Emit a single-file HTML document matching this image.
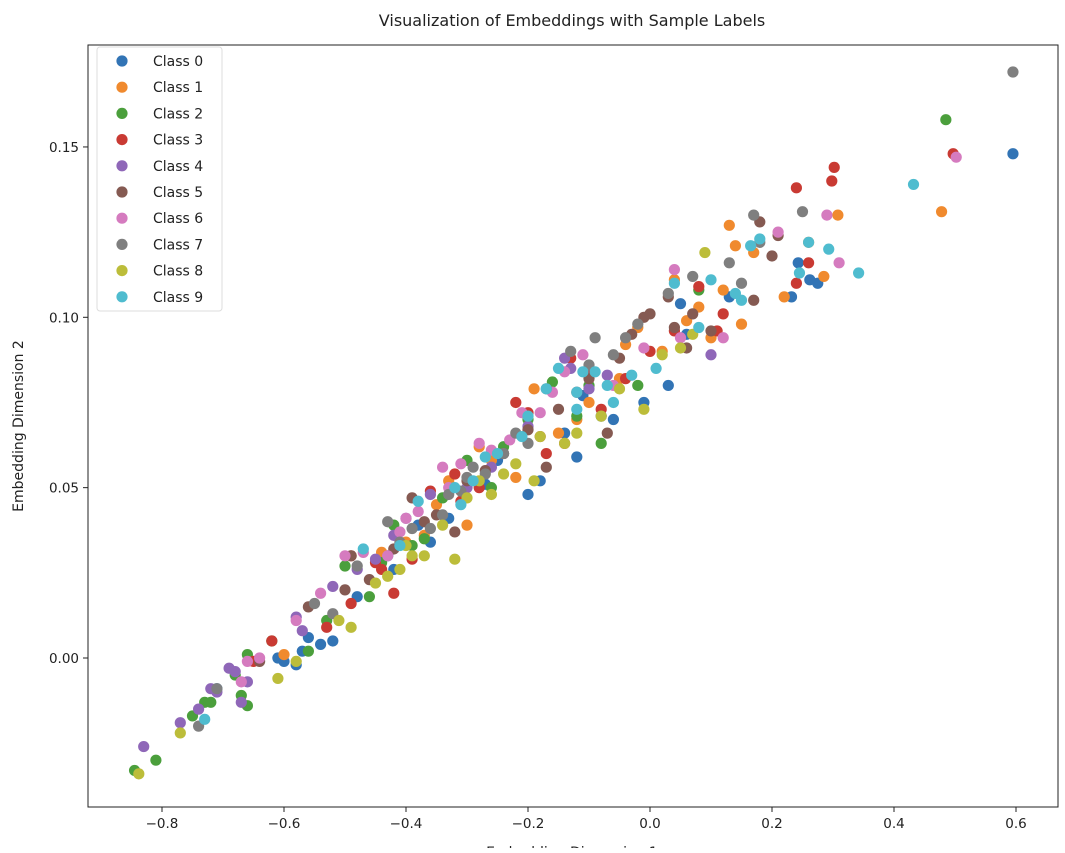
<!DOCTYPE html>
<html><head><meta charset="utf-8"><style>
body{margin:0;background:#fff;}
svg text{font-family:"DejaVu Sans","Liberation Sans",sans-serif;fill:#222;}
</style></head><body>
<svg id="chart" width="1065" height="848" viewBox="0 0 1065 848" xmlns="http://www.w3.org/2000/svg">
<text x="572" y="26" font-size="16" text-anchor="middle">Visualization of Embeddings with Sample Labels</text>
<text transform="translate(23,426) rotate(-90)" font-size="14" text-anchor="middle">Embedding Dimension 2</text>
<text x="572" y="857" font-size="14" text-anchor="middle">Embedding Dimension 1</text>
<g id="points"></g>
<g id="axes"></g>
<g id="legend"></g>
</svg>
<script>
const classNames=["Class 0","Class 1","Class 2","Class 3","Class 4","Class 5","Class 6","Class 7","Class 8","Class 9"];
const colors=["#3274b5","#f08a2e","#4b9f3c","#c93a33","#8f67b8","#855a52","#d57bbf","#7f7f7f","#bcbd3a","#4fbccf"];
const xTicks=[-0.8,-0.6,-0.4,-0.2,0.0,0.2,0.4,0.6];
const xTickLabels=["\u22120.8","\u22120.6","\u22120.4","\u22120.2","0.0","0.2","0.4","0.6"];
const yTicks=[0.00,0.05,0.10,0.15];
const yTickLabels=["0.00","0.05","0.10","0.15"];
const class0=[[0.595,0.148],[0.232,0.106],[0.262,0.111],[0.275,0.110],[0.243,0.116],[0.13,0.106],[0.05,0.104],[0.03,0.080],[-0.01,0.075],[-0.06,0.070],[-0.12,0.059],[-0.20,0.048],[-0.18,0.052],[-0.33,0.041],[-0.36,0.034],[-0.42,0.026],[-0.48,0.018],[-0.52,0.005],[-0.54,0.004],[-0.57,0.002],[-0.58,-0.002],[-0.60,-0.001],[-0.56,0.006],[-0.61,0.000],[-0.71,-0.009],[-0.08,0.071],[0.06,0.095],[-0.14,0.066],[-0.25,0.058],[-0.43,0.030],[-0.27,0.051],[-0.11,0.077],[-0.38,0.039]];
const class1=[[0.478,0.131],[0.308,0.130],[0.285,0.112],[0.26,0.122],[0.14,0.121],[0.13,0.127],[0.15,0.098],[0.22,0.106],[0.10,0.094],[0.12,0.108],[0.04,0.111],[0.06,0.099],[0.08,0.103],[-0.02,0.097],[-0.04,0.092],[-0.10,0.075],[-0.15,0.066],[-0.22,0.053],[-0.28,0.062],[-0.30,0.039],[-0.37,0.036],[-0.44,0.031],[-0.33,0.052],[-0.60,0.001],[0.17,0.119],[-0.05,0.082],[0.02,0.090],[-0.19,0.079],[-0.40,0.034],[-0.26,0.058],[-0.12,0.070],[-0.35,0.045]];
const class2=[[0.485,0.158],[-0.845,-0.033],[-0.81,-0.030],[-0.75,-0.017],[-0.73,-0.013],[-0.72,-0.013],[-0.67,-0.011],[-0.66,-0.014],[-0.68,-0.005],[-0.66,0.001],[-0.62,0.005],[-0.56,0.002],[-0.50,0.027],[-0.46,0.018],[-0.42,0.039],[-0.37,0.035],[-0.34,0.047],[-0.26,0.050],[-0.20,0.070],[-0.08,0.063],[-0.12,0.071],[0.08,0.108],[-0.16,0.081],[-0.30,0.058],[-0.53,0.011],[-0.44,0.028],[-0.02,0.080],[-0.24,0.062],[-0.39,0.033],[-0.10,0.080]];
const class3=[[0.497,0.148],[0.302,0.144],[0.298,0.140],[0.24,0.138],[0.24,0.110],[0.26,0.116],[0.12,0.101],[0.08,0.109],[0.11,0.096],[0.04,0.096],[-0.04,0.082],[-0.08,0.073],[-0.18,0.065],[-0.17,0.060],[-0.20,0.072],[-0.14,0.063],[-0.13,0.088],[-0.28,0.050],[-0.32,0.054],[-0.36,0.049],[-0.39,0.029],[-0.42,0.019],[-0.44,0.026],[-0.49,0.016],[-0.49,0.030],[-0.53,0.009],[-0.62,0.005],[-0.65,-0.001],[-0.22,0.075],[0.00,0.090],[-0.10,0.084],[-0.31,0.046],[-0.45,0.028]];
const class4=[[-0.83,-0.026],[-0.77,-0.019],[-0.74,-0.015],[-0.72,-0.009],[-0.71,-0.010],[-0.69,-0.003],[-0.68,-0.004],[-0.67,-0.013],[-0.66,-0.007],[-0.57,0.008],[-0.52,0.021],[-0.45,0.029],[-0.40,0.041],[-0.36,0.048],[-0.26,0.056],[-0.13,0.085],[-0.14,0.088],[-0.07,0.083],[0.10,0.089],[-0.30,0.050],[-0.58,0.012],[-0.48,0.026],[-0.20,0.068],[-0.42,0.036],[-0.10,0.079]];
const class5=[[0.18,0.128],[0.20,0.118],[0.17,0.105],[0.10,0.096],[0.06,0.091],[0.07,0.101],[0.03,0.106],[-0.01,0.100],[0.00,0.101],[-0.03,0.095],[-0.07,0.066],[-0.10,0.082],[-0.15,0.073],[-0.17,0.056],[-0.20,0.067],[-0.24,0.060],[-0.30,0.052],[-0.35,0.042],[-0.39,0.047],[-0.42,0.032],[-0.46,0.023],[-0.50,0.020],[-0.56,0.015],[-0.64,-0.001],[-0.49,0.030],[-0.32,0.037],[0.04,0.097],[-0.12,0.078],[0.21,0.124],[-0.27,0.055],[-0.05,0.088],[-0.37,0.040]];
const class6=[[0.502,0.147],[0.29,0.130],[0.31,0.116],[0.21,0.125],[0.12,0.094],[0.05,0.094],[0.04,0.114],[-0.01,0.091],[-0.06,0.080],[-0.11,0.089],[-0.16,0.078],[-0.21,0.072],[-0.23,0.064],[-0.28,0.063],[-0.31,0.057],[-0.34,0.056],[-0.38,0.043],[-0.40,0.041],[-0.41,0.037],[-0.43,0.030],[-0.47,0.031],[-0.50,0.030],[-0.54,0.019],[-0.58,0.011],[-0.64,0.000],[-0.66,-0.001],[-0.67,-0.007],[-0.26,0.061],[-0.14,0.084],[-0.33,0.050],[-0.18,0.072]];
const class7=[[0.595,0.172],[0.25,0.131],[0.18,0.122],[0.13,0.116],[0.17,0.130],[0.07,0.112],[0.03,0.107],[-0.02,0.098],[-0.06,0.089],[-0.09,0.094],[-0.13,0.090],[-0.17,0.079],[-0.20,0.063],[-0.24,0.060],[-0.27,0.054],[-0.29,0.056],[-0.31,0.049],[-0.34,0.042],[-0.36,0.038],[-0.39,0.038],[-0.41,0.034],[-0.43,0.040],[-0.48,0.027],[-0.52,0.013],[-0.55,0.016],[-0.71,-0.009],[-0.74,-0.020],[-0.30,0.053],[0.15,0.110],[-0.10,0.086],[-0.22,0.066],[-0.33,0.048],[-0.04,0.094]];
const class8=[[-0.838,-0.034],[-0.77,-0.022],[-0.61,-0.006],[-0.58,-0.001],[-0.49,0.009],[-0.51,0.011],[-0.45,0.022],[-0.41,0.026],[-0.39,0.030],[-0.37,0.030],[-0.32,0.029],[-0.30,0.047],[-0.26,0.048],[-0.24,0.054],[-0.19,0.052],[-0.18,0.065],[-0.14,0.063],[-0.12,0.066],[-0.08,0.071],[-0.05,0.079],[-0.01,0.073],[0.02,0.089],[0.05,0.091],[0.09,0.119],[-0.43,0.024],[-0.34,0.039],[-0.22,0.057],[0.07,0.095],[-0.28,0.052],[-0.40,0.033]];
const class9=[[0.432,0.139],[0.342,0.113],[0.293,0.120],[0.26,0.122],[0.245,0.113],[0.18,0.123],[0.165,0.121],[0.15,0.105],[0.14,0.107],[0.10,0.111],[0.08,0.097],[0.04,0.110],[0.01,0.085],[-0.03,0.083],[-0.07,0.080],[-0.09,0.084],[-0.12,0.078],[-0.17,0.079],[-0.20,0.071],[-0.21,0.065],[-0.25,0.060],[-0.29,0.052],[-0.32,0.050],[-0.31,0.045],[-0.38,0.046],[-0.41,0.033],[-0.47,0.032],[-0.73,-0.018],[-0.12,0.073],[-0.15,0.085],[-0.06,0.075],[-0.27,0.059],[-0.11,0.084]];
const series=[class0,class1,class2,class3,class4,class5,class6,class7,class8,class9];

const L=88,R=1058,T=45,B=807;
const xScale=v=>650+610*v;
const yScale=v=>658-3407*v;
const NS="http://www.w3.org/2000/svg";
function mk(tag,attrs,parent){const e=document.createElementNS(NS,tag);for(const k in attrs)e.setAttribute(k,attrs[k]);parent.appendChild(e);return e;}
const pts=document.getElementById('points');
series.forEach((arr,ci)=>{
  arr.forEach(p=>{
    const c=mk('circle',{cx:xScale(p[0]),cy:yScale(p[1]),r:5.6,fill:colors[ci]},pts);
    
    
  });
});
const ax=document.getElementById('axes');
const frame=mk('rect',{x:L,y:T,width:R-L,height:B-T,fill:'none',stroke:'#222','stroke-width':1},ax);


xTicks.forEach((v,i)=>{
  const x=xScale(v);
  const t=mk('line',{x1:x,x2:x,y1:B,y2:B+5,stroke:'#222'},ax);
  
  
  const tx=mk('text',{x:x,y:B+21,'font-size':13.5,'text-anchor':'middle'},ax);
  tx.textContent=xTickLabels[i];
  
  
});
yTicks.forEach((v,i)=>{
  const y=yScale(v);
  const t=mk('line',{x1:L-5,x2:L,y1:y,y2:y,stroke:'#222'},ax);
  
  
  const tx=mk('text',{x:L-9,y:y+5,'font-size':13.5,'text-anchor':'end'},ax);
  tx.textContent=yTickLabels[i];
  
  
});
const lg=document.getElementById('legend');
const box=mk('rect',{x:97,y:47,width:125,height:264,rx:3,fill:'#fff','fill-opacity':0.8,stroke:'#ddd'},lg);


classNames.forEach((n,i)=>{
  const y=61+i*26.2;
  const g=mk('g',{},lg);
  
  
  mk('circle',{cx:122,cy:y,r:5.6,fill:colors[i]},g);
  const t=mk('text',{x:153,y:y+5,'font-size':14},g);
  t.textContent=n;
});
</script>
</body></html>
